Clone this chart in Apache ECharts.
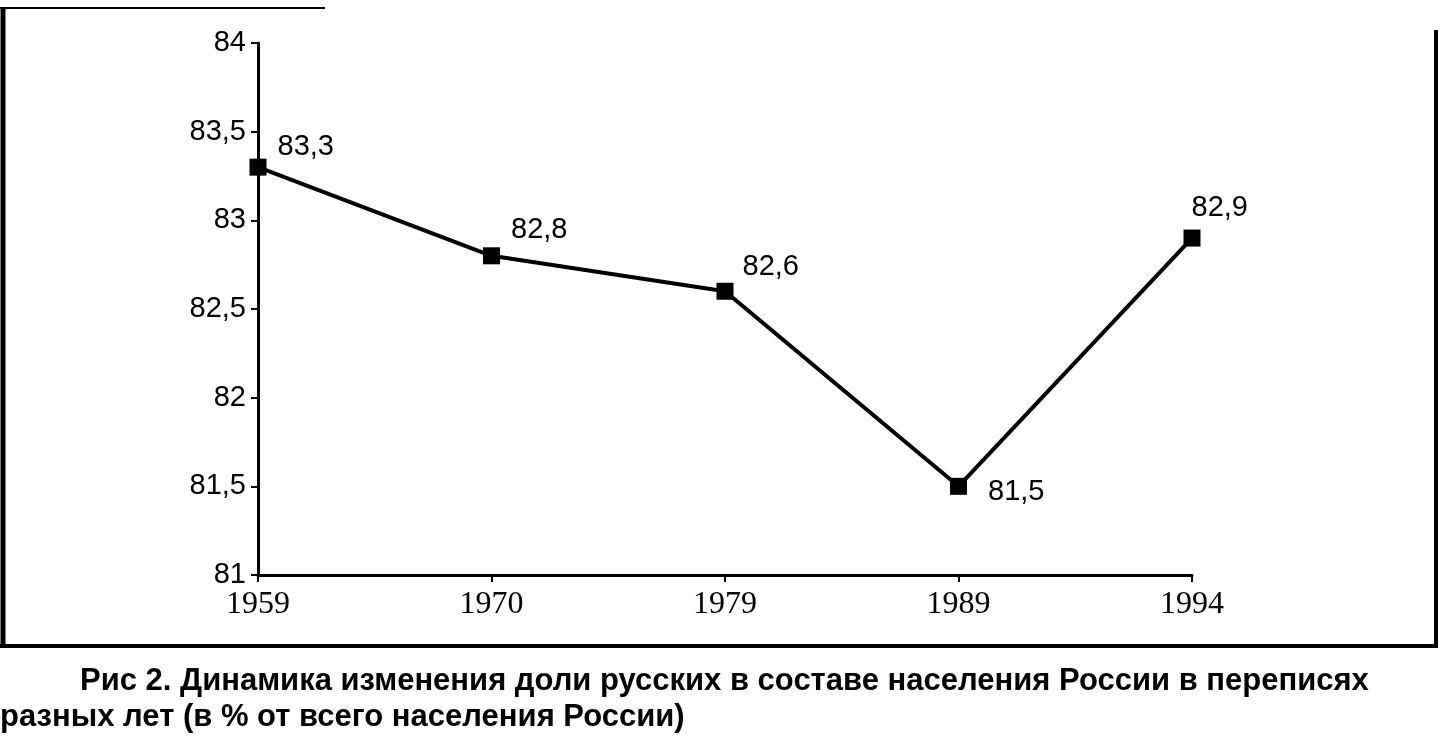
<!DOCTYPE html>
<html><head><meta charset="utf-8">
<script src="https://cdn.jsdelivr.net/npm/echarts@6/dist/echarts.min.js"></script>
<style>html,body{margin:0;padding:0;background:#fff}#c{width:1449px;height:755px}</style>
</head><body><div id="c"></div>
<script>
const years = ['1959','1970','1979','1989','1994'];
const shares = [83.3, 82.8, 82.6, 81.5, 82.9];
const labelPos = [[6,-20],[6,-26],[4,-24],[16,6],[-14,-30]];
const caption1 = 'Рис 2. Динамика изменения доли русских в составе населения России в переписях';
const caption2 = 'разных лет (в % от всего населения России)';

const chart = echarts.init(document.getElementById('c'));
const fmt = v => String(v).replace('.', ',');
chart.setOption({
  animation: false,
  grid: {left: 258, top: 43, width: 934, height: 532},
  xAxis: {
    type: 'category', data: years, boundaryGap: false,
    axisLine: {lineStyle: {color: '#000', width: 3}},
    axisTick: {length: 7, lineStyle: {color: '#000', width: 2}},
    axisLabel: {color: '#000', fontFamily: 'Liberation Serif', fontSize: 32, margin: 14}
  },
  yAxis: {
    type: 'value', min: 81, max: 84, interval: 0.5,
    splitLine: {show: false},
    axisLine: {show: true, lineStyle: {color: '#000', width: 3}},
    axisTick: {show: true, length: 7, lineStyle: {color: '#000', width: 2}},
    axisLabel: {color: '#000', fontFamily: 'Liberation Sans', fontSize: 29, margin: 12, formatter: fmt}
  },
  series: [{
    type: 'line', symbol: 'rect', symbolSize: 17,
    itemStyle: {color: '#000'}, lineStyle: {color: '#000', width: 4},
    data: shares.map((v, i) => ({
      value: v,
      label: {show: true, position: 'right', offset: labelPos[i], formatter: p => fmt(p.value),
        color: '#000', fontFamily: 'Liberation Sans', fontSize: 29}
    }))
  }],
  graphic: [
    {type: 'line', shape: {x1: 3, y1: 8, x2: 3, y2: 646}, style: {stroke: '#000', lineWidth: 5}},
    {type: 'line', shape: {x1: 0, y1: 8, x2: 325, y2: 8}, style: {stroke: '#000', lineWidth: 2}},
    {type: 'line', shape: {x1: 1436, y1: 30, x2: 1436, y2: 646}, style: {stroke: '#000', lineWidth: 4}},
    {type: 'line', shape: {x1: 0, y1: 646, x2: 1438, y2: 646}, style: {stroke: '#000', lineWidth: 4}},
    {type: 'text', left: 80, top: 666, style: {text: caption1, fill: '#000', font: 'bold 31px "Liberation Sans"'}},
    {type: 'text', left: 0, top: 702, style: {text: caption2, fill: '#000', font: 'bold 31px "Liberation Sans"'}}
  ]
});
</script></body></html>
